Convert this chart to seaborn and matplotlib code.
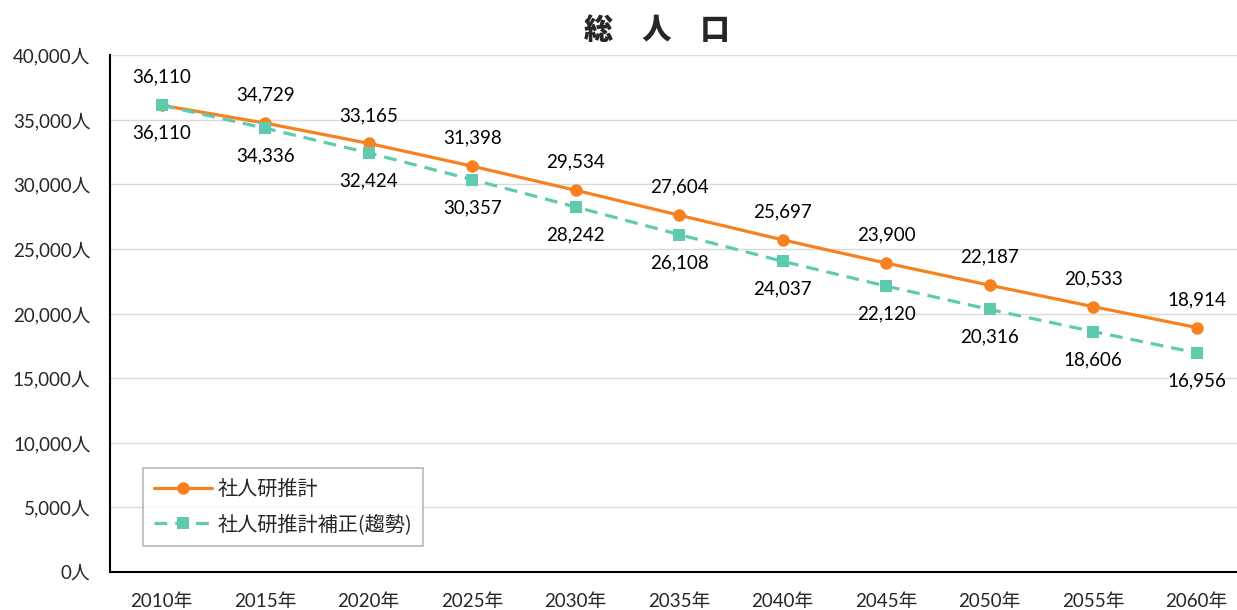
import numpy as np
import pandas as pd
import matplotlib
matplotlib.use("Agg")
import matplotlib.pyplot as plt
import seaborn as sns
from matplotlib.ticker import FixedLocator, FuncFormatter

# data
years = ["2010年", "2015年", "2020年", "2025年", "2030年", "2035年",
         "2040年", "2045年", "2050年", "2055年", "2060年"]
ipss = [36110, 34729, 33165, 31398, 29534, 27604, 25697, 23900, 22187, 20533, 18914]
ipss_trend = [36110, 34336, 32424, 30357, 28242, 26108, 24037, 22120, 20316, 18606, 16956]
series_names = ["社人研推計", "社人研推計補正(趨勢)"]

sns.set_theme(style="white")
plt.rcParams['font.family'] = ['Lato', 'Noto Sans CJK JP', 'DejaVu Sans']

df = pd.DataFrame({
    "idx": list(range(len(years))) * 2,
    "pop": ipss + ipss_trend,
    "series": [series_names[0]] * len(years) + [series_names[1]] * len(years),
})

orange = "#F7811F"
green = "#5ECBAF"

fig = plt.figure(figsize=(12.37, 6.10), dpi=100)
ax = fig.add_axes([110 / 1237, (610 - 572) / 610, 1127 / 1237, (572 - 55) / 610])

sns.lineplot(data=df, x="idx", y="pop", hue="series", style="series",
             palette=[orange, green], dashes=[(None, None), (4, 2.5)],
             markers=["o", "s"], markersize=9, linewidth=2.3,
             markeredgewidth=0, ax=ax, legend=False)

for i, v in enumerate(ipss):
    ax.annotate(f"{v:,}", (i, v), xytext=(0, 14), textcoords="offset points",
                ha="center", va="bottom", fontsize=13.5, color="black")
for i, v in enumerate(ipss_trend):
    ax.annotate(f"{v:,}", (i, v), xytext=(0, -14), textcoords="offset points",
                ha="center", va="top", fontsize=13.5, color="black")

ax.set_xlim(-0.5, 10.39)
ax.set_ylim(0, 40000)
ax.set_yticks(np.arange(0, 40001, 5000))
ax.yaxis.set_major_formatter(FuncFormatter(lambda v, p: f"{int(v):,}人"))
ax.yaxis.grid(True, color="#D9D9D9", linewidth=1)
ax.set_axisbelow(True)

ax.xaxis.set_major_locator(FixedLocator(np.arange(-0.5, 11, 1)))
ax.xaxis.set_minor_locator(FixedLocator(np.arange(0, 11)))
ax.set_xticklabels([], minor=False)
ax.set_xticklabels(years, minor=True)
ax.tick_params(axis="x", which="major", direction="out", length=7, width=1.2, color="black")
ax.tick_params(axis="x", which="minor", length=0, pad=15, labelsize=13.5)
ax.tick_params(axis="y", direction="out", length=8, width=1.2, color="black", labelsize=13.5, pad=6)
ax.set_xlabel("")
ax.set_ylabel("")

for s in ["top", "right"]:
    ax.spines[s].set_visible(False)
for s in ["left", "bottom"]:
    ax.spines[s].set_color("black")
    ax.spines[s].set_linewidth(1.5)

handles = [
    plt.Line2D([], [], color=orange, linewidth=2.3, marker="o", markersize=9, markeredgewidth=0),
    plt.Line2D([], [], color=green, linewidth=2.3, linestyle=(0, (4, 2.5)), marker="s", markersize=9, markeredgewidth=0),
]
leg = ax.legend(handles, series_names, loc="lower left",
                bbox_to_anchor=(33 / 1127, 26 / 517), borderaxespad=0, frameon=True,
                fancybox=False, edgecolor="#A6A6A6", handlelength=2.9, handletextpad=0.25,
                borderpad=0.55, labelspacing=0.7,
                prop={"family": ["Noto Sans CJK JP"], "size": 14.5})
leg.get_frame().set_linewidth(1.2)

fig.text(657 / 1237, 1 - 30 / 610, "総　人　口", ha="center", va="center",
         fontsize=21, fontweight="heavy", family=["Noto Sans CJK JP"])

fig.savefig("out.png", dpi=100)
